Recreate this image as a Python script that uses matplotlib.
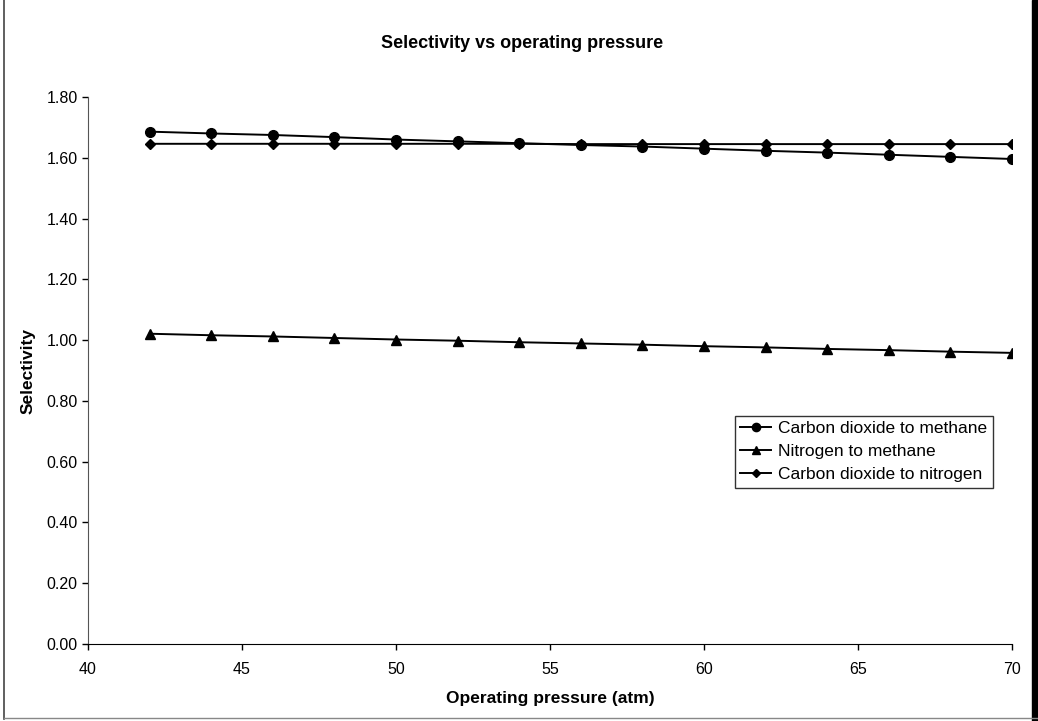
import matplotlib
matplotlib.use("Agg")
import matplotlib.pyplot as plt
from matplotlib.patches import Rectangle
from matplotlib.lines import Line2D

plt.rcParams['font.family'] = ['Liberation Sans', 'DejaVu Sans']

# Operating pressure (atm)
pressure = [42, 44, 46, 48, 50, 52, 54, 56, 58, 60, 62, 64, 66, 68, 70]

# Selectivities
co2_ch4 = [1.686, 1.680, 1.675, 1.668, 1.660, 1.654, 1.648, 1.642, 1.637,
           1.630, 1.623, 1.617, 1.610, 1.603, 1.596]
n2_ch4 = [1.021, 1.016, 1.012, 1.007, 1.002, 0.998, 0.993, 0.989, 0.985,
          0.980, 0.976, 0.971, 0.967, 0.962, 0.958]
co2_n2 = [1.646, 1.646, 1.646, 1.646, 1.646, 1.646, 1.646, 1.645, 1.645,
          1.645, 1.645, 1.645, 1.645, 1.645, 1.645]

series_labels = ["Carbon dioxide to methane", "Nitrogen to methane",
                 "Carbon dioxide to nitrogen"]

x_ticks = [40, 45, 50, 55, 60, 65, 70]
y_ticks = [0.0, 0.2, 0.4, 0.6, 0.8, 1.0, 1.2, 1.4, 1.6, 1.8]

W, H = 1038, 721
fig = plt.figure(figsize=(W / 100, H / 100), dpi=100)
fig.patch.set_facecolor("white")

ax = fig.add_axes([88 / W, 1 - 644 / H, (1012 - 88) / W, (644 - 97) / H])

ax.plot(pressure, co2_ch4, color="black", lw=1.4, marker="o", ms=7,
        label=series_labels[0])
ax.plot(pressure, n2_ch4, color="black", lw=1.4, marker="^", ms=7,
        label=series_labels[1])
ax.plot(pressure, co2_n2, color="black", lw=1.4, marker="D", ms=5,
        label=series_labels[2])

ax.set_xlim(40, 70)
ax.set_ylim(0, 1.8)
ax.set_xticks(x_ticks)
ax.set_yticks(y_ticks)
ax.set_yticklabels([f"{v:.2f}" for v in y_ticks])
ax.tick_params(axis="both", direction="out", length=4, width=1,
               labelsize=11.5, colors="black")
ax.tick_params(axis="x", pad=9)

for side in ("top", "right"):
    ax.spines[side].set_visible(False)
ax.spines["left"].set_color("#555555")
ax.spines["bottom"].set_color("black")

fig.text(522 / W, 1 - 43 / H, "Selectivity vs operating pressure",
         fontsize=13, fontweight="bold", ha="center", va="center")
ax.set_xlabel("Operating pressure (atm)", fontsize=12.5, fontweight="bold",
              labelpad=10)
ax.set_ylabel("Selectivity", fontsize=12.5, fontweight="bold", labelpad=8)

leg = ax.legend(loc="upper left", bbox_to_anchor=((735 - 88) / (1012 - 88),
                                                   (644 - 416) / (644 - 97)),
                fontsize=12.5, frameon=True, fancybox=False, edgecolor="black",
                handlelength=1.8, handletextpad=0.4, borderpad=0.3,
                labelspacing=0.45, borderaxespad=0, markerscale=0.85)
leg.get_frame().set_linewidth(1.0)

# page border
fig.add_artist(Line2D([4 / W, 4 / W], [2 / H, 1], transform=fig.transFigure,
                      color="#444444", lw=1.2))
fig.add_artist(Line2D([4 / W, 1], [3 / H, 3 / H], transform=fig.transFigure,
                      color="#888888", lw=1.0))
fig.add_artist(Rectangle((1032 / W, 0), 6 / W, 1, transform=fig.transFigure,
                         color="black"))

fig.savefig("out.png", dpi=100)
